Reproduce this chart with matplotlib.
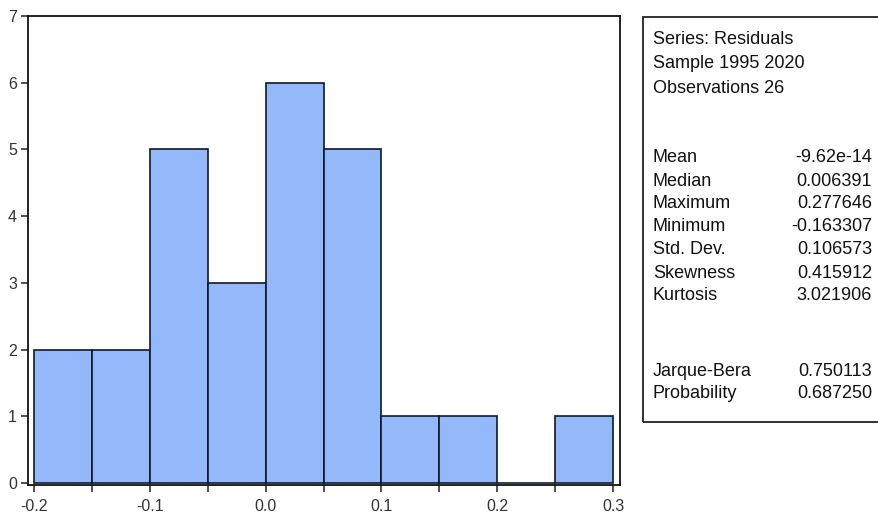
import matplotlib
matplotlib.use("Agg")
import matplotlib.pyplot as plt
from matplotlib.patches import Rectangle
import numpy as np

plt.rcParams['font.family'] = ['Liberation Sans', 'DejaVu Sans']

# histogram of residuals, bin width 0.05
bin_edges = [-0.2, -0.15, -0.1, -0.05, 0.0, 0.05, 0.1, 0.15, 0.2, 0.25, 0.3]
counts = [2, 2, 5, 3, 6, 5, 1, 1, 0, 1]

header_lines = ["Series: Residuals", "Sample 1995 2020", "Observations 26"]
stat_names = ["Mean", "Median", "Maximum", "Minimum", "Std. Dev.", "Skewness", "Kurtosis"]
stat_values = ["-9.62e-14", "0.006391", "0.277646", "-0.163307", "0.106573", "0.415912", "3.021906"]
test_names = ["Jarque-Bera", "Probability"]
test_values = ["0.750113", "0.687250"]

W, H = 879, 523
fig = plt.figure(figsize=(W / 100, H / 100), dpi=100)
fig.patch.set_facecolor('white')

ax = fig.add_axes([28 / W, 1 - 485 / H, (620 - 28) / W, (485 - 16) / H])
edges = np.array(bin_edges)
ax.bar(edges[:-1], counts, width=np.diff(edges), align='edge',
       color='#93b9fa', edgecolor='#101828', linewidth=1.2)

ax.set_xlim(-0.2052, 0.3060)
ax.set_ylim(-0.03, 7)
ax.set_xticks([-0.2, -0.1, 0.0, 0.1, 0.2, 0.3])
ax.set_xticklabels(['-0.2', '-0.1', '0.0', '0.1', '0.2', '0.3'])
ax.set_xticks(edges[1::2], minor=True)
ax.set_yticks(range(8))
ax.tick_params(axis='both', which='both', direction='out', length=5, width=1.2,
               labelsize=11.5, colors='#333333', pad=3)
ax.tick_params(axis='x', pad=5)
for s in ax.spines.values():
    s.set_linewidth(1.3)
    s.set_color('#111111')

# summary statistics panel
box_l, box_t, box_b = 643 / W, 1 - 17 / H, 1 - 422 / H
fig.patches.append(Rectangle((box_l, box_b), 1.0 - box_l + 0.01, box_t - box_b,
                             transform=fig.transFigure, fill=False,
                             edgecolor='#222222', linewidth=1.3))
fs = 13
x_lab = 653 / W
x_val = 872 / W
y = 40
for line in header_lines:
    fig.text(x_lab, 1 - y / H, line, fontsize=fs, va='center', ha='left', color='#111111')
    y += 24
y = 158
for name, val in zip(stat_names, stat_values):
    fig.text(x_lab, 1 - y / H, name, fontsize=fs, va='center', ha='left', color='#111111')
    fig.text(x_val, 1 - y / H, val, fontsize=fs, va='center', ha='right', color='#111111')
    y += 23
y = 371
for name, val in zip(test_names, test_values):
    fig.text(x_lab, 1 - y / H, name, fontsize=fs, va='center', ha='left', color='#111111')
    fig.text(x_val, 1 - y / H, val, fontsize=fs, va='center', ha='right', color='#111111')
    y += 23

fig.savefig('out.png', dpi=100, facecolor='white')
